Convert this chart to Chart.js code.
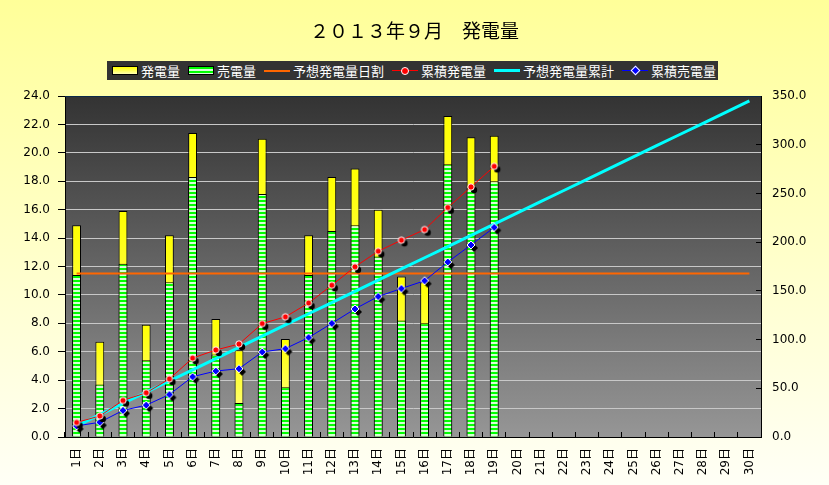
<html><head>
<meta charset="UTF-8">
<title>2013年9月 発電量</title>
<script src="https://cdn.jsdelivr.net/npm/chart.js"></script>
<style>
  body { margin: 0; width: 829px; height: 485px; overflow: hidden;
         background: linear-gradient(#FFFF99, #FFFFF6); font-family: "Noto Sans CJK JP", sans-serif; }
  #wrap { position: relative; width: 829px; height: 485px; }
  #title { position: absolute; left: 0; width: 829px; top: 19px; text-align: center;
           font-size: 19px; line-height: 22px; color: #000; }
  #legend { position: absolute; left: 107px; top: 61px; width: 611px; height: 19px;
            background: #333; color: #fff; font-size: 13px; line-height: 19px; white-space: nowrap;
            display: flex; align-items: center; padding-left: 5px; box-sizing: border-box; }
  .item { display: flex; align-items: center; margin-right: 8px; flex-shrink: 0; }
  .sw { display: inline-block; margin-right: 3px; position: relative; flex-shrink: 0; }
  .box { width: 24px; height: 7px; border: 1px solid #000; }
  .ln { width: 26px; }
  .mk { position: absolute; }
  canvas { position: absolute; left: 0; top: 0; }
</style>
</head>
<body>
<div id="wrap">
  <canvas id="c" width="829" height="485"></canvas>
  <div id="title">２０１３年９月　発電量</div>
  <div id="legend">
    <span class="item"><span class="sw box" style="background:linear-gradient(#FFFF00,#FFFFB0)"></span>発電量</span>
    <span class="item"><span class="sw box" style="background:repeating-linear-gradient(#00FF00 0 2px,#D8FFD8 2px 4px)"></span>売電量</span>
    <span class="item"><span class="sw ln" style="border-top:2px solid #FF6600"></span>予想発電量日割</span>
    <span class="item"><span class="sw ln" style="border-top:1px solid #FF0000"><span class="mk" style="width:6px;height:6px;border-radius:50%;background:#f00;border:1px solid #fff;left:9px;top:-4.5px"></span></span>累積発電量</span>
    <span class="item"><span class="sw ln" style="border-top:3px solid #00FFFF"></span>予想発電量累計</span>
    <span class="item"><span class="sw ln" style="border-top:1px solid #0000FF"><span class="mk" style="width:5px;height:5px;background:#00f;border:1px solid #fff;transform:rotate(45deg);left:10px;top:-4px"></span></span>累積売電量</span>
  </div>
</div>
<script>
const days = ['1日','2日','3日','4日','5日','6日','7日','8日','9日','10日','11日','12日','13日','14日','15日',
              '16日','17日','18日','19日','20日','21日','22日','23日','24日','25日','26日','27日','28日','29日','30日'];
// daily generation / daily sold (kWh), days 1-19
const generated = [14.9, 6.7, 15.9, 7.9, 14.2, 21.4, 8.3, 6.1, 21.0, 6.9, 14.2, 18.3, 18.9, 16.0, 11.3, 10.9, 22.6, 21.1, 21.2];
const sold = [11.4, 3.7, 12.2, 5.4, 10.9, 18.3, 5.8, 2.4, 17.1, 3.5, 11.4, 14.5, 14.9, 12.7, 8.2, 8.0, 19.2, 17.5, 18.0];
const dailyForecast = [11.5, 11.5, 11.5, 11.5, 11.5, 11.5, 11.5, 11.5, 11.5, 11.5, 11.5, 11.5, 11.5, 11.5, 11.5,
                       11.5, 11.5, 11.5, 11.5, 11.5, 11.5, 11.5, 11.5, 11.5, 11.5, 11.5, 11.5, 11.5, 11.5, 11.5];
// cumulative values (right axis)
const cumGenerated = [14.9, 21.6, 37.5, 45.4, 59.6, 81.0, 89.3, 95.4, 116.4, 123.3, 137.5, 155.8, 174.7, 190.7, 202.0,
                      212.9, 235.5, 256.6, 277.8];
const cumForecast = [11.5, 23.0, 34.5, 46.0, 57.5, 69.0, 80.5, 92.0, 103.5, 115.0, 126.5, 138.0, 149.5, 161.0, 172.5,
                     184.0, 195.5, 207.0, 218.5, 230.0, 241.5, 253.0, 264.5, 276.0, 287.5, 299.0, 310.5, 322.0, 333.5, 345.0];
const cumSold = [11.4, 15.1, 27.3, 32.7, 43.6, 61.9, 67.7, 70.1, 87.2, 90.7, 102.1, 116.6, 131.5, 144.2, 152.4,
                 160.4, 179.6, 197.1, 215.1];
const leftTicks = [0, 24, 2];
const rightTicks = [0, 350, 50];

// striped fill for the sold bars
function stripes() {
  const p = document.createElement('canvas');
  p.width = 4; p.height = 4;
  const g = p.getContext('2d');
  g.fillStyle = '#00FF00'; g.fillRect(0, 0, 4, 2);
  g.fillStyle = '#D8FFD8'; g.fillRect(0, 2, 4, 2);
  return document.getElementById('c').getContext('2d').createPattern(p, 'repeat');
}

// marker with a black drop shadow
function marker(shape, color) {
  const m = document.createElement('canvas');
  m.width = 18; m.height = 18;
  const g = m.getContext('2d');
  function path(cx, cy) {
    g.beginPath();
    if (shape === 'circle') g.arc(cx, cy, 3.2, 0, Math.PI * 2);
    else { g.moveTo(cx, cy - 4); g.lineTo(cx + 4, cy); g.lineTo(cx, cy + 4); g.lineTo(cx - 4, cy); g.closePath(); }
  }
  path(12, 12); g.fillStyle = '#000'; g.fill();
  path(9, 9); g.fillStyle = color; g.fill();
  g.lineWidth = 1; g.strokeStyle = '#fff'; g.stroke();
  return m;
}

function yellowFill(c) {
  const ch = c.chart, ys = ch.scales.y;
  if (!ys || c.raw == null) return '#FFFF00';
  const t = ys.getPixelForValue(c.raw), b = ys.getPixelForValue(0);
  if (!isFinite(t) || !isFinite(b) || t === b) return '#FFFF00';
  const gr = ch.ctx.createLinearGradient(0, t, 0, b);
  gr.addColorStop(0, '#FFFF00');
  gr.addColorStop(1, '#FFFFB0');
  return gr;
}

const plotBg = {
  id: 'plotBg',
  beforeDraw(chart) {
    const a = chart.chartArea, ctx = chart.ctx;
    const gr = ctx.createLinearGradient(0, a.top, 0, a.bottom);
    gr.addColorStop(0, '#333333');
    gr.addColorStop(1, '#969696');
    ctx.save();
    ctx.fillStyle = gr;
    ctx.fillRect(a.left, a.top, a.right - a.left, a.bottom - a.top);
    ctx.restore();
  },
  afterDraw(chart) {
    const a = chart.chartArea, ctx = chart.ctx;
    ctx.save();
    ctx.strokeStyle = '#0b2a4a';
    ctx.lineWidth = 1;
    ctx.beginPath();
    ctx.moveTo(a.left, a.top + 0.5); ctx.lineTo(a.right, a.top + 0.5);
    ctx.stroke();
    ctx.restore();
  }
};

const tickFont = { family: 'DejaVu Sans, "Noto Sans CJK JP"', size: 12 };

new Chart(document.getElementById('c'), {
  type: 'bar',
  data: {
    labels: days,
    datasets: [
      { label: '発電量', data: generated, backgroundColor: yellowFill, borderColor: '#000', borderWidth: 1,
        grouped: false, barPercentage: 0.38, categoryPercentage: 1, order: 5, yAxisID: 'y' },
      { label: '売電量', data: sold, backgroundColor: stripes(), borderColor: '#000', borderWidth: 1,
        grouped: false, barPercentage: 0.38, categoryPercentage: 1, order: 4, yAxisID: 'y' },
      { type: 'line', label: '予想発電量日割', data: dailyForecast, borderColor: '#FF6600', borderWidth: 2,
        pointRadius: 0, order: 3, yAxisID: 'y' },
      { type: 'line', label: '予想発電量累計', data: cumForecast, borderColor: '#00FFFF', borderWidth: 3,
        pointRadius: 0, order: 2, yAxisID: 'y2' },
      { type: 'line', label: '累積売電量', data: cumSold, borderColor: '#0000FF', borderWidth: 1,
        pointStyle: marker('diamond', '#0000FF'), pointRadius: 5, order: 1, yAxisID: 'y2' },
      { type: 'line', label: '累積発電量', data: cumGenerated, borderColor: '#FF0000', borderWidth: 1,
        pointStyle: marker('circle', '#FF0000'), pointRadius: 5, order: 0, yAxisID: 'y2' }
    ]
  },
  options: {
    responsive: false,
    animation: false,
    devicePixelRatio: 1,
    layout: { padding: { top: 96, left: 0, right: 0, bottom: 0 } },
    plugins: { legend: { display: false }, title: { display: false }, tooltip: { enabled: false } },
    scales: {
      x: {
        offset: true,
        grid: { offset: true, drawOnChartArea: false, tickLength: -5, tickColor: '#000' },
        border: { color: '#000', width: 1 },
        ticks: { minRotation: 90, maxRotation: 90, autoSkip: false, padding: 16, color: '#000', font: tickFont },
        afterFit(s) { s.height = 48; }
      },
      y: {
        position: 'left', min: leftTicks[0], max: leftTicks[1],
        grid: { color: '#C8C8C8', tickColor: '#000', tickLength: 7 },
        border: { color: '#000', width: 1 },
        ticks: { stepSize: leftTicks[2], padding: 8, color: '#000', font: tickFont, callback: v => v.toFixed(1) },
        afterFit(s) { s.width = 65; }
      },
      y2: {
        position: 'right', min: rightTicks[0], max: rightTicks[1],
        grid: { drawOnChartArea: false, tickColor: '#000', tickLength: -5 },
        border: { color: '#000', width: 1 },
        ticks: { stepSize: rightTicks[2], padding: 16, color: '#000', font: tickFont, callback: v => v.toFixed(1) },
        afterFit(s) { s.width = 68; }
      }
    }
  },
  plugins: [plotBg]
});
</script>
</body></html>
